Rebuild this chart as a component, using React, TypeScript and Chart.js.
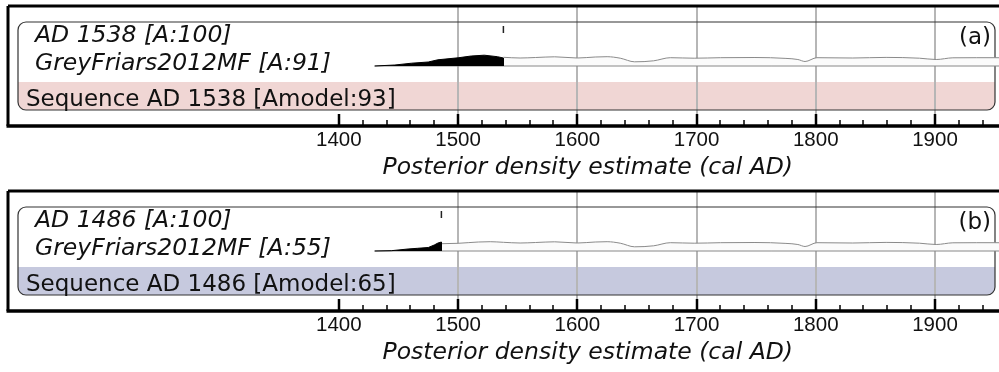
import { useEffect, useRef } from 'react';
import { Chart, registerables } from 'chart.js';

Chart.register(...registerables);
Chart.defaults.font.family = "'DejaVu Sans', sans-serif";

// ---- axis ----
const X_MIN = 1122.5;
const X_MAX = 2095;
const TICK_LABEL_YEARS = [1400, 1500, 1600, 1700, 1800, 1900, 2000];
const GRID_YEARS = [1500, 1600, 1700, 1800, 1900, 2000];
const MINOR_START = 1400;
const MINOR_STEP = 20;
const AXIS_TITLE = 'Posterior density estimate (cal AD)';

// ---- likelihood (GreyFriars2012MF, unmodelled) ----
const likelihoodYears = [
  1486, 1500, 1517, 1527, 1538, 1552, 1565, 1581, 1600, 1615, 1625, 1636, 1648,
  1664, 1678, 1698, 1720, 1749, 1775, 1785, 1791, 1801, 1831, 1859, 1887, 1901,
  1915, 1935, 1950, 1975,
];
const likelihoodDensity = [
  7.3, 7.7, 9.0, 9.3, 8.7, 8.0, 8.5, 9.2, 8.0, 9.0, 9.3, 7.8, 4.2,
  5.2, 8.3, 7.8, 8.3, 8.5, 7.6, 6.5, 4.5, 8.3, 8.0, 8.6, 7.8, 6.5,
  8.2, 8.3, 8.3, 8.0,
];

// ---- posterior (modelled), panel a ----
const postAYears = [1430, 1447, 1461, 1475, 1483, 1500, 1511, 1522, 1533, 1538, 1538];
const postADensity = [0, 1.0, 2.8, 4.0, 6.2, 8.2, 10.0, 10.8, 9.3, 8.0, 0];
// ---- posterior (modelled), panel b ----
const postBYears = [1430, 1444, 1458, 1466, 1475, 1480, 1483, 1486, 1486];
const postBDensity = [0, 0.3, 2.0, 2.7, 3.5, 6.0, 7.9, 9.0, 0];

// ---- panels ----
const panelIds = ['(a)', '(b)'];
const dateValues = [1538, 1486];
const dateLabels = ['AD 1538 [A:100]', 'AD 1486 [A:100]'];
const likeLabels = ['GreyFriars2012MF [A:91]', 'GreyFriars2012MF [A:55]'];
const seqLabels = ['Sequence AD 1538 [Amodel:93]', 'Sequence AD 1486 [Amodel:65]'];
const bandColors = ['#f0d6d4', '#c6c9de'];
const DATE_ROW = 36.5;

const CANVAS_W = 1173;
const CANVAS_H = 185;

function makeChart(canvas: HTMLCanvasElement, idx: number) {
  const cutoff = dateValues[idx];
  const pYears = idx === 0 ? postAYears : postBYears;
  const pDens = idx === 0 ? postADensity : postBDensity;
  const likePts = likelihoodYears
    .map((x, i) => ({ x, y: likelihoodDensity[i] }))
    .filter((p) => p.x >= cutoff);
  const postPts = pYears.map((x, i) => ({ x, y: pDens[i] }));
  const basePts = [{ x: pYears[0], y: 0 }, { x: X_MAX, y: 0 }];
  const markPts = [{ x: cutoff, y: DATE_ROW }];

  const framePlugin = {
    id: 'frame' + idx,
    beforeDatasetsDraw(chart: any) {
      const { ctx, chartArea } = chart;
      const { left, top, bottom } = chartArea;
      const xs = chart.scales.x;
      const bx0 = left + 10;
      const bx1 = left + 987;
      const by0 = top + 16;
      const by1 = top + 104;
      const bandTop = top + 76;
      ctx.save();
      // coloured sequence band
      ctx.fillStyle = bandColors[idx];
      ctx.beginPath();
      ctx.roundRect(bx0, bandTop, bx1 - bx0, by1 - bandTop, [0, 0, 8, 8]);
      ctx.fill();
      // grid lines
      ctx.strokeStyle = '#b6b6b6';
      ctx.lineWidth = 2;
      GRID_YEARS.forEach((yr) => {
        const px = Math.round(xs.getPixelForValue(yr));
        ctx.beginPath();
        ctx.moveTo(px, top);
        ctx.lineTo(px, bottom);
        ctx.stroke();
      });
      // rounded box
      ctx.strokeStyle = '#333';
      ctx.lineWidth = 1.2;
      ctx.beginPath();
      ctx.roundRect(bx0, by0, bx1 - bx0, by1 - by0, 8);
      ctx.stroke();
      ctx.restore();
    },
    afterDraw(chart: any) {
      const { ctx, chartArea } = chart;
      const { left, right, top, bottom } = chartArea;
      const xs = chart.scales.x;
      const axisY = bottom + 1;
      ctx.save();
      // outer frame
      ctx.strokeStyle = '#000';
      ctx.lineWidth = 3;
      ctx.beginPath();
      ctx.moveTo(left, top);
      ctx.lineTo(right, top);
      ctx.moveTo(left, top);
      ctx.lineTo(left, axisY);
      ctx.stroke();
      ctx.lineWidth = 3.5;
      ctx.beginPath();
      ctx.moveTo(left - 1.5, axisY);
      ctx.lineTo(right, axisY);
      ctx.stroke();
      // ticks
      for (let yr = MINOR_START; yr <= X_MAX; yr += MINOR_STEP) {
        const px = Math.round(xs.getPixelForValue(yr));
        const major = yr % 100 === 0;
        ctx.lineWidth = major ? 2.5 : 1.5;
        ctx.beginPath();
        ctx.moveTo(px, axisY);
        ctx.lineTo(px, axisY - (major ? 12 : 6));
        ctx.stroke();
      }
      // texts
      ctx.fillStyle = '#111';
      ctx.textBaseline = 'alphabetic';
      ctx.textAlign = 'left';
      ctx.font = "italic 23.5px 'DejaVu Sans'";
      ctx.fillText(dateLabels[idx], left + 27, top + 36);
      ctx.fillText(likeLabels[idx], left + 27, top + 64);
      ctx.font = "23px 'DejaVu Sans'";
      ctx.fillText(seqLabels[idx], left + 18, top + 100);
      ctx.textAlign = 'right';
      ctx.fillText(panelIds[idx], left + 983, top + 38);
      ctx.restore();
    },
  };

  return new Chart(canvas, {
    type: 'line',
    data: {
      datasets: [
        {
          type: 'scatter',
          data: markPts,
          pointStyle: 'line',
          rotation: 90,
          pointRadius: 3.5,
          borderColor: '#222',
          borderWidth: 1.5,
          backgroundColor: '#222',
          order: 1,
        } as any,
        {
          data: postPts,
          borderColor: '#000',
          backgroundColor: '#000',
          borderWidth: 1,
          fill: 'origin',
          pointRadius: 0,
          tension: 0,
          order: 2,
        },
        {
          data: basePts,
          borderColor: '#888',
          borderWidth: 1,
          fill: false,
          pointRadius: 0,
          order: 3,
        },
        {
          data: likePts,
          borderColor: '#8a8a8a',
          backgroundColor: '#fbfbfb',
          borderWidth: 1,
          fill: 'origin',
          pointRadius: 0,
          cubicInterpolationMode: 'monotone',
          order: 4,
        },
      ],
    },
    options: {
      responsive: false,
      animation: false,
      devicePixelRatio: 1,
      layout: { padding: { left: 8, right: 0, top: 6, bottom: 0 } },
      plugins: { legend: { display: false }, tooltip: { enabled: false } },
      scales: {
        x: {
          type: 'linear',
          min: X_MIN,
          max: X_MAX,
          afterBuildTicks: (scale: any) => {
            scale.ticks = TICK_LABEL_YEARS.map((v) => ({ value: v }));
          },
          afterFit: (scale: any) => {
            scale.height = 60;
          },
          grid: { display: false, drawTicks: false },
          border: { display: false },
          ticks: {
            autoSkip: false,
            maxRotation: 0,
            padding: 3.5,
            color: '#111',
            font: { size: 20.5, family: "'Liberation Sans', Arial, sans-serif" },
            callback: (v: any) => String(v),
          },
          title: {
            display: true,
            text: AXIS_TITLE,
            color: '#111',
            font: { size: 23.5, style: 'italic' },
            padding: { top: 0, bottom: 3.5 },
          },
        },
        y: { display: false, min: -59, max: 60 },
      },
    },
    plugins: [framePlugin],
  } as any);
}

export default function App() {
  const refA = useRef<HTMLCanvasElement>(null);
  const refB = useRef<HTMLCanvasElement>(null);
  useEffect(() => {
    document.body.style.margin = '0';
    const charts = [refA.current, refB.current].map((c, i) => makeChart(c as HTMLCanvasElement, i));
    return () => charts.forEach((ch) => ch.destroy());
  }, []);
  return (
    <div
      style={{
        position: 'absolute',
        left: 0,
        top: 0,
        width: 999,
        height: 372,
        overflow: 'hidden',
        background: '#fff',
      }}
    >
      <canvas ref={refA} width={CANVAS_W} height={CANVAS_H} style={{ display: 'block', width: CANVAS_W, height: CANVAS_H }} />
      <canvas ref={refB} width={CANVAS_W} height={CANVAS_H} style={{ display: 'block', width: CANVAS_W, height: CANVAS_H }} />
    </div>
  );
}
